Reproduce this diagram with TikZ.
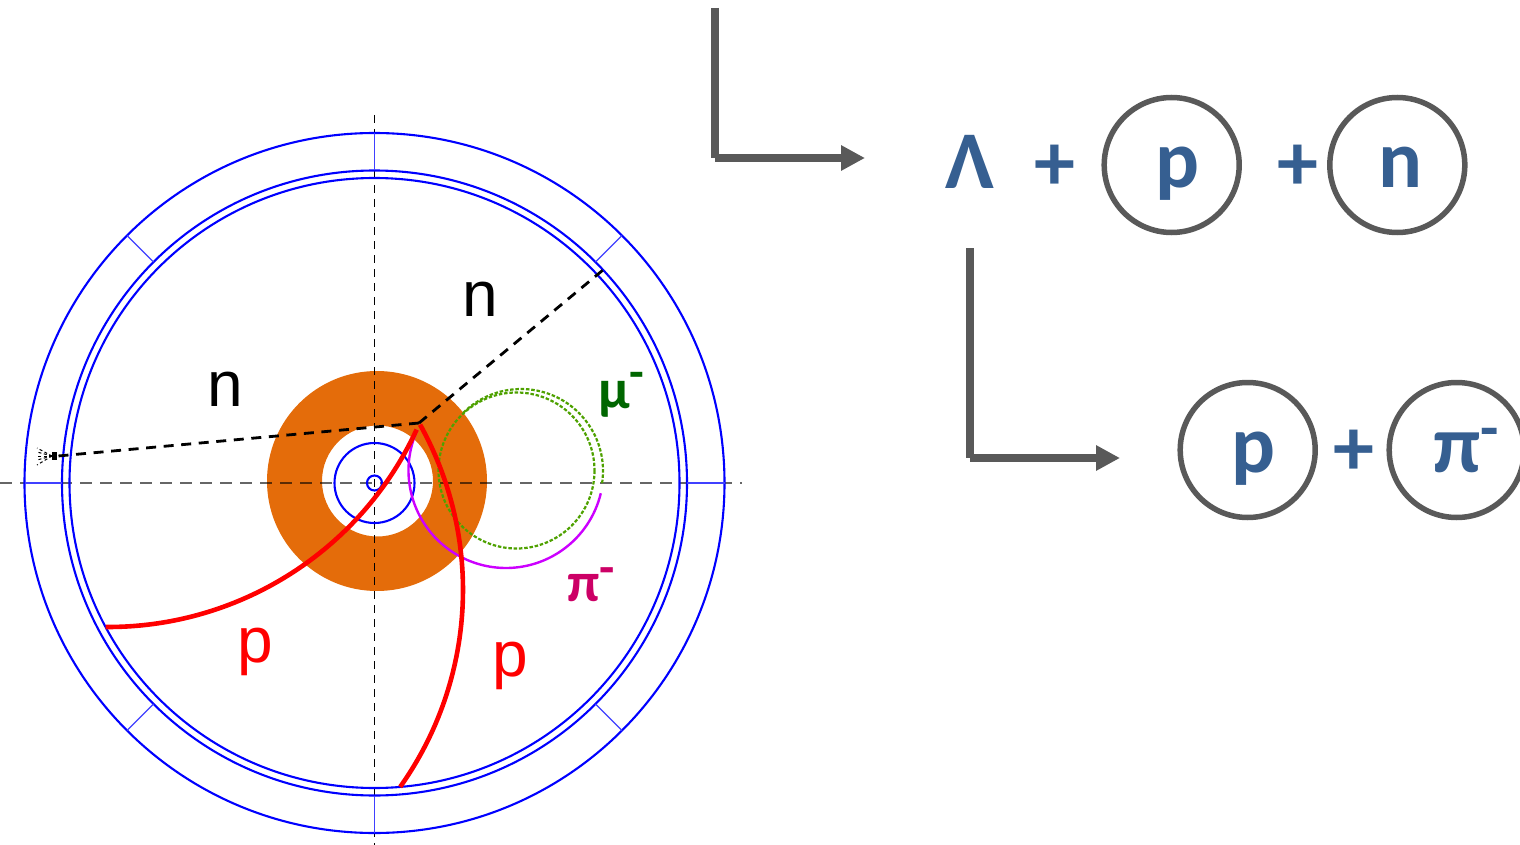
\documentclass[tikz,border=0pt]{standalone}
\usepackage{fontspec}
\setmainfont{Carlito}
\newfontfamily\armo{Liberation Sans}
\usetikzlibrary{arrows.meta}
\definecolor{gearGray}{HTML}{595959}
\definecolor{txtBlue}{HTML}{365F91}
\definecolor{ringOrange}{HTML}{E46C0A}
\definecolor{muTrack}{HTML}{4EA100}
\definecolor{muText}{HTML}{006600}
\definecolor{piTrack}{HTML}{CC00FF}
\definecolor{piText}{HTML}{CC0066}
\newcommand{\supbar}[2]{\raisebox{#2pt}{\fontsize{#1}{#1}\selectfont -}}
\tikzset{
  detring/.style={draw=blue,line width=2.1pt},
  dettick/.style={draw=blue!75!white,line width=1.1pt},
  axisH/.style={draw=black,opacity=.6,line width=1.3pt,dash pattern=on 12pt off 8pt},
  axisV/.style={draw=black,line width=1pt,dash pattern=on 8pt off 6pt},
  neutron/.style={draw=black,line width=2.8pt,dash pattern=on 10pt off 7.6pt},
  proton/.style={draw=red,line width=4.6pt},
  pion/.style={draw=piTrack,line width=2.4pt},
  muon/.style={draw=muTrack,line width=2.2pt,dash pattern=on 3.5pt off 1.8pt},
  decay/.style={draw=gearGray,line width=8pt},
  decayarrow/.style={decay,-{Triangle[length=24pt,width=24pt]}},
  particle/.style={circle,draw=gearGray,line width=5.5pt,minimum size=135pt,inner sep=0pt},
  eqtext/.style={anchor=base,inner sep=0pt,text=txtBlue,font=\fontsize{82}{82}\selectfont\bfseries},
  tracklabel/.style={anchor=base,inner sep=0pt,font=\fontsize{64}{64}\selectfont\armo},
  greektext/.style={anchor=base west,inner sep=0pt,font=\fontsize{56}{56}\selectfont\bfseries},
  spray/.style={draw=black,line width=1pt,dash pattern=on 3pt off 2.5pt}
}
\begin{document}
\begin{tikzpicture}[x=1pt,y=-1pt]
\useasboundingbox (0,0) rectangle (1520,845);
\coordinate (C) at (374.5,483);
\coordinate (V) at (419,423);
% orange ring
\fill[ringOrange,even odd rule] (377,481) circle[radius=110] (377.5,481) circle[radius=55.5];
% axes
\coordinate (axL) at (0,483); \coordinate (axR) at (742,483);
\coordinate (axT) at (374.5,115); \coordinate (axB) at (374.5,845);
\draw[axisV] (axT) -- (axB);
\draw[axisH] (axL) -- (axR);
% detector rings
\draw[detring] (C) circle[radius=350];
\draw[detring] (C) circle[radius=312.5];
\draw[detring] (C) circle[radius=305];
\draw[detring] (C) circle[radius=40];
\draw[detring] (C) circle[radius=7.5];
\foreach \a in {0,45,...,315}{
  \draw[dettick] (C) ++(\a:312.5) -- ++(\a:37.5);
}
% muon
\draw[muon] (516.5,470.5) circle[radius=78];
\draw[muon] (521,471) ++(8.5:82) arc[start angle=8.5,end angle=-135,radius=82];
% pion
\draw[pion] (506,470.5) ++(204.5:97.5) arc[start angle=204.5,end angle=13.5,radius=97.5];
% protons
\draw[proton] (108,287) ++(90.4:340) arc[start angle=90.4,end angle=24.8,radius=340];
\draw[proton] (123,590) ++(-29.1:340) arc[start angle=-29.1,end angle=35.4,radius=340];
% neutrons
\coordinate (nR) at (603,270);
\coordinate (nL) at (58,456);
\draw[neutron] (V) -- (nR);
\draw[neutron] (V) -- (nL);
% spray at the neutron's end
\fill[black] (52,452) rectangle (57,460);
\foreach \y in {448,452,456,460,465}{
  \coordinate (sp) at (37,\y);
  \draw[spray] (52,456) -- (sp);
}
% track labels
\node[tracklabel] (ln1) at (480,316) {n};
\node[tracklabel] (ln2) at (225,406) {n};
\node[tracklabel,text=red] (lp1) at (255,662) {p};
\node[tracklabel,text=red] (lp2) at (510,676) {p};
\node[greektext,text=muText] (lmu) at (598,408) {μ\supbar{48}{20}};
\node[greektext,text=piText] (lpi) at (567,601) {π\supbar{50}{17}};
% decay arrows
\coordinate (a1) at (715,8); \coordinate (a2) at (715,158); \coordinate (a3) at (865,158);
\draw[decay] (a1) -- (a2);
\draw[decayarrow] (a2) -- (a3);
\coordinate (b1) at (970,248); \coordinate (b2) at (970,458); \coordinate (b3) at (1120,458);
\draw[decay] (b1) -- (b2);
\draw[decayarrow] (b2) -- (b3);
% equation 1
\node[eqtext] (lam) at (970,188.5) {Λ};
\node[eqtext] (pl1) at (1054.5,190) {+};
\node[particle] (cp1) at (1171.7,165) {};
\node[eqtext] (tp1) at (1177,187.5) {p};
\node[eqtext] (pl2) at (1297.7,190) {+};
\node[particle] (cn1) at (1397.3,165) {};
\node[eqtext] (tn1) at (1400,187.5) {n};
% equation 2
\node[particle] (cp2) at (1247.7,450) {};
\node[eqtext] (tp2) at (1253,472.5) {p};
\node[eqtext] (pl3) at (1354,475.5) {+};
\node[particle] (cpi) at (1456.7,450) {};
\node[eqtext,anchor=base west] (tpi) at (1433,472.5) {π\supbar{60}{24}};
\end{tikzpicture}
\end{document}
